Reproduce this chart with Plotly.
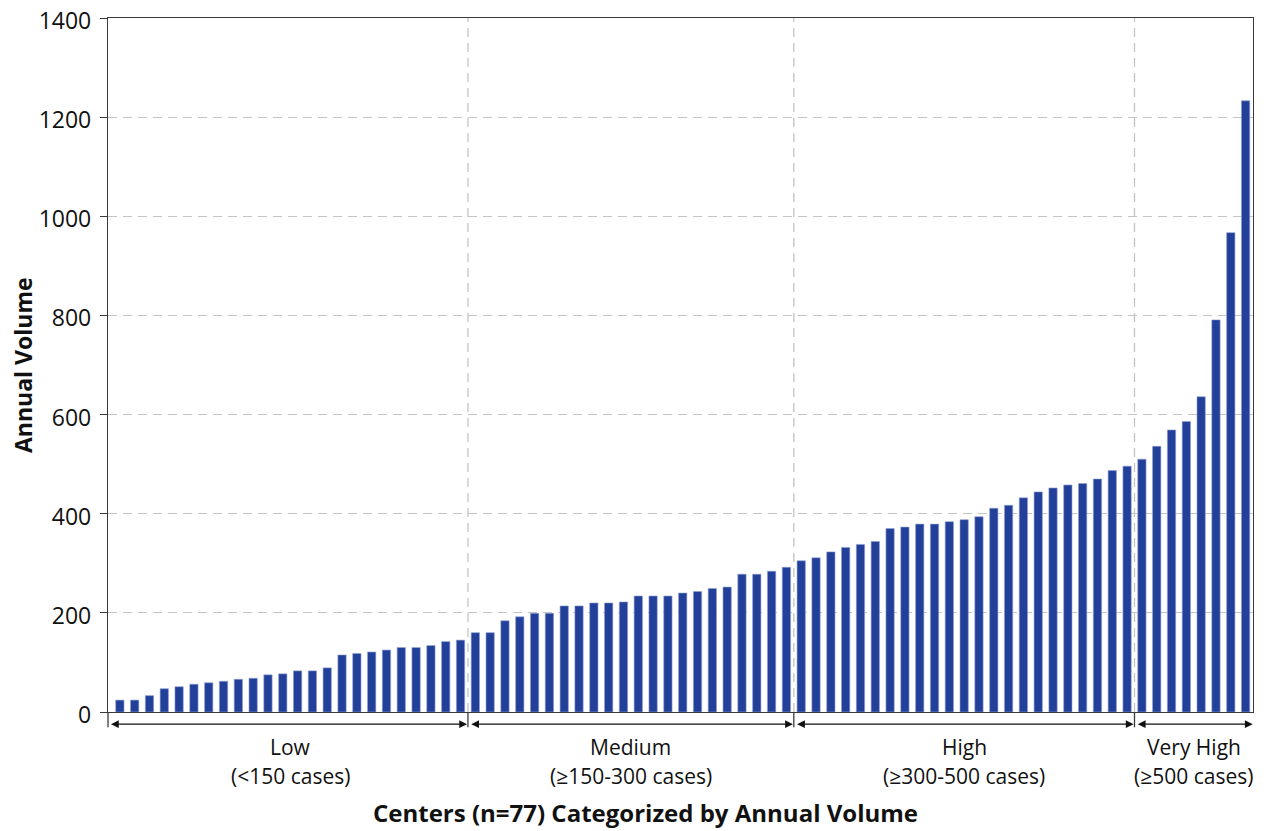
import plotly.graph_objects as go

# Annual volumes per center, sorted, grouped by category
low = [24, 24, 33, 47, 51, 56, 59, 62, 66, 68, 75, 77, 83, 83, 89, 115, 118, 121, 125, 130, 130, 134, 142, 145]
medium = [160, 160, 184, 192, 199, 199, 214, 214, 220, 220, 222, 234, 234, 234, 240, 243, 249, 252, 278, 278, 284, 292]
high = [305, 311, 323, 332, 338, 344, 370, 373, 379, 379, 384, 388, 394, 411, 417, 432, 444, 452, 458, 461, 470, 487, 496]
very_high = [510, 536, 569, 586, 636, 791, 967, 1233]

group_names = ["Low", "Medium", "High", "Very High"]
group_ranges = ["(<150 cases)", "(≥150-300 cases)", "(≥300-500 cases)", "(≥500 cases)"]
y_ticks = [0, 200, 400, 600, 800, 1000, 1200, 1400]

groups = [low, medium, high, very_high]
volumes = low + medium + high + very_high
centers = list(range(len(volumes)))

FONT = "Open Sans"
GRID = "#c4c4c4"
AXIS = "#3a3a3a"
XMIN = -0.8
XMAX = len(volumes) - 0.5

fig = go.Figure()
fig.add_trace(go.Bar(
    x=centers, y=volumes,
    marker=dict(color="#22409a", line=dict(color="#8fa0d0", width=0.6)),
    hoverinfo="y",
))

shapes = []
annotations = []
start = -0.5
for i, g in enumerate(groups):
    end = start + len(g)
    left = XMIN if i == 0 else start
    annotations.append(dict(
        x=end - 0.06 if i < len(groups) - 1 else XMAX - 0.02, y=-0.0175, xref="x", yref="paper",
        ax=left + 0.12 if i > 0 else left + 0.1, ay=0, axref="x", ayref="pixel",
        showarrow=True, arrowside="end+start", arrowhead=2, arrowsize=1.3,
        arrowwidth=1.2, arrowcolor="#111111", text="",
    ))
    mid = (start + end) / 2
    annotations.append(dict(
        x=mid, y=-0.0504, xref="x", yref="paper", yanchor="middle", showarrow=False,
        text=group_names[i], font=dict(family=FONT, size=21, color="#111111"),
    ))
    annotations.append(dict(
        x=mid, y=-0.0922, xref="x", yref="paper", yanchor="middle", showarrow=False,
        text=group_ranges[i], font=dict(family=FONT, size=21, color="#111111"),
    ))
    if i < len(groups) - 1:
        shapes.append(dict(type="line", xref="x", yref="paper", x0=end, x1=end, y0=0, y1=1,
                           line=dict(color=GRID, width=1.3, dash="9px,6px"), layer="below"))
        shapes.append(dict(type="line", xref="x", yref="paper", x0=end, x1=end, y0=0, y1=-0.022,
                           line=dict(color=AXIS, width=1.3)))
    start = end

shapes.append(dict(type="line", xref="paper", yref="paper", x0=0, x1=0, y0=0, y1=-0.022,
                   line=dict(color=AXIS, width=1.3)))

annotations.append(dict(
    x=0.469, y=-0.1455, xref="paper", yref="paper", yanchor="middle", showarrow=False,
    text="<b>Centers (n=77) Categorized by Annual Volume</b>",
    font=dict(family=FONT, size=24, color="#111111"),
))
annotations.append(dict(
    x=-0.0742, y=0.5, xref="paper", yref="paper", xanchor="center", yanchor="middle",
    showarrow=False, textangle=-90, text="<b>Annual Volume</b>",
    font=dict(family=FONT, size=23, color="#111111"),
))

fig.update_layout(
    width=1277, height=831,
    margin=dict(l=108, r=24, t=18, b=119, autoexpand=False),
    plot_bgcolor="white", paper_bgcolor="white",
    bargap=0.44, showlegend=False,
    shapes=shapes, annotations=annotations,
    xaxis=dict(range=[XMIN, XMAX], showticklabels=False, ticks="", showgrid=False,
               zeroline=False, showline=True, linecolor=AXIS, linewidth=1.3, mirror=True,
               automargin=False),
    yaxis=dict(range=[0, 1400], tickvals=y_ticks, ticks="outside", ticklen=7,
               tickcolor=AXIS, showgrid=True, gridcolor=GRID, gridwidth=1.3,
               griddash="9px,6px", zeroline=False, showline=True, linecolor=AXIS,
               linewidth=1.3, mirror=True, automargin=False, ticklabelstandoff=4,
               ticklabelshift=3, ticklabeloverflow="allow",
               tickfont=dict(family=FONT, size=23, color="#111111")),
)

# remove the default page margin so the figure fills the window exactly
fig.write_html("out.html", config={"displayModeBar": False},
               post_script="document.body.style.margin='0';document.body.style.overflow='hidden';")
